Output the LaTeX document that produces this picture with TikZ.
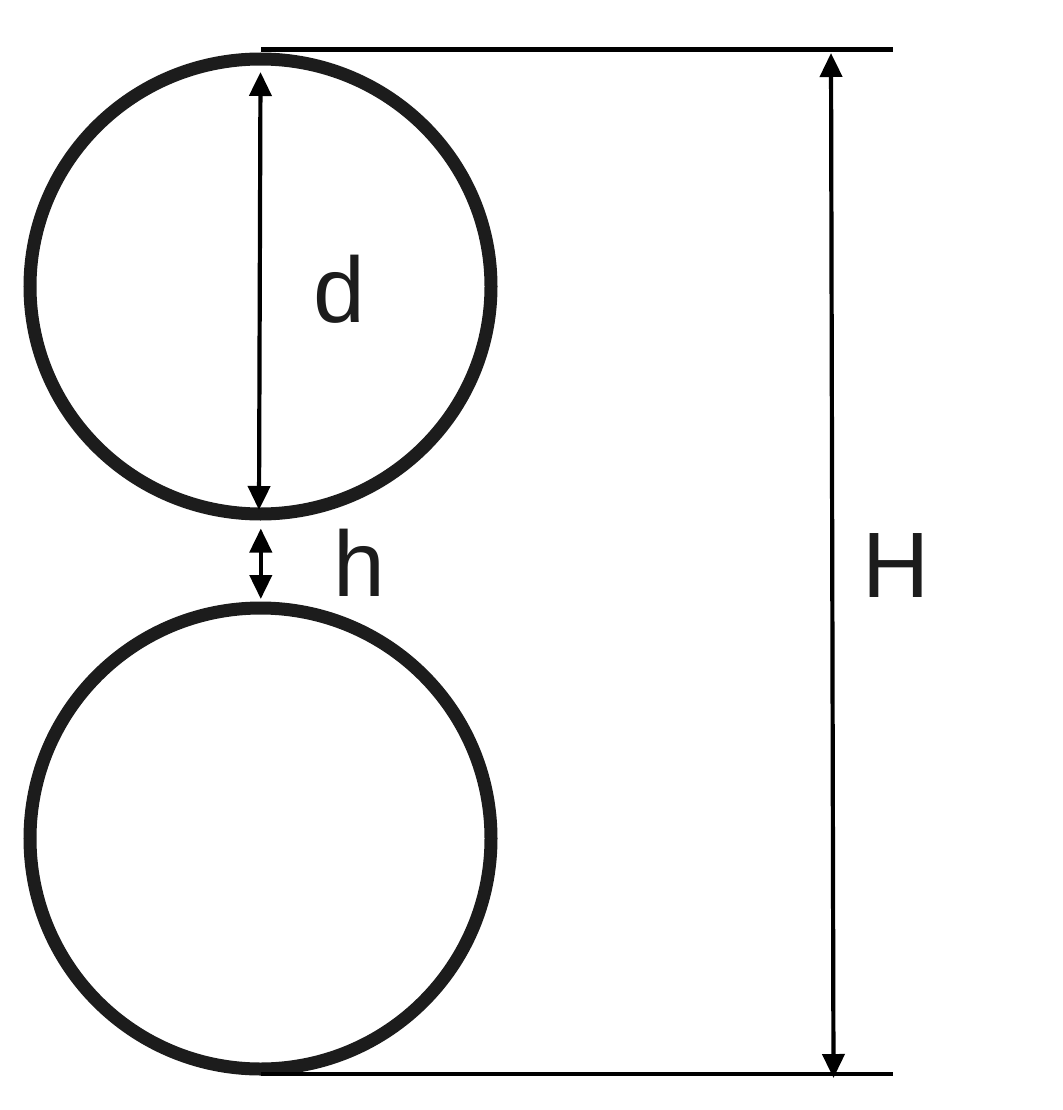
\documentclass[tikz,border=0pt]{standalone}
\usepackage{fontspec}
\setmainfont{Liberation Sans}
\usetikzlibrary{arrows.meta}
\definecolor{ink}{HTML}{1C1C1C}
\tikzset{
  ring/.style={draw=ink, line width=13pt},
  rule/.style={draw=black, line width=4.5pt},
  dim/.style={draw=black, line width=4.2pt, {Triangle[length=24pt,width=22pt]}-{Triangle[length=24pt,width=22pt]}},
  lbl/.style={anchor=base west, inner sep=0pt, text=ink, font=\fontsize{93}{100}\selectfont}
}
\begin{document}
\begin{tikzpicture}[x=1pt,y=-1pt]
\useasboundingbox (0,0) rectangle (1062,1110);
% circles
\coordinate (c1) at (260.5,286.5);
\coordinate (c2) at (260.5,838.5);
\draw[ring] (c1) ellipse [x radius=230.5, y radius=227.5];
\draw[ring] (c2) ellipse [x radius=230.5, y radius=230.5];
% reference lines
\coordinate (t1) at (261,49.5);
\coordinate (t2) at (893,49.5);
\coordinate (b1) at (261,1074);
\coordinate (b2) at (893,1074);
\draw[rule] (t1) -- (t2);
\draw[rule] (b1) -- (b2);
% dimension arrows
\coordinate (d1) at (260.5,72);
\coordinate (d2) at (259,510);
\coordinate (h1) at (260.8,528.5);
\coordinate (h2) at (260.8,599);
\coordinate (H1) at (831,53);
\coordinate (H2) at (833.5,1078);
\draw[dim] (d1) -- (d2);
\draw[dim] (h1) -- (h2);
\draw[dim] (H1) -- (H2);
% labels
\node[lbl] (ld) at (313,322.7) {d};
\node[lbl] (lh) at (333,596.7) {h};
\node[lbl] (lH) at (862,597) {H};
\end{tikzpicture}
\end{document}
